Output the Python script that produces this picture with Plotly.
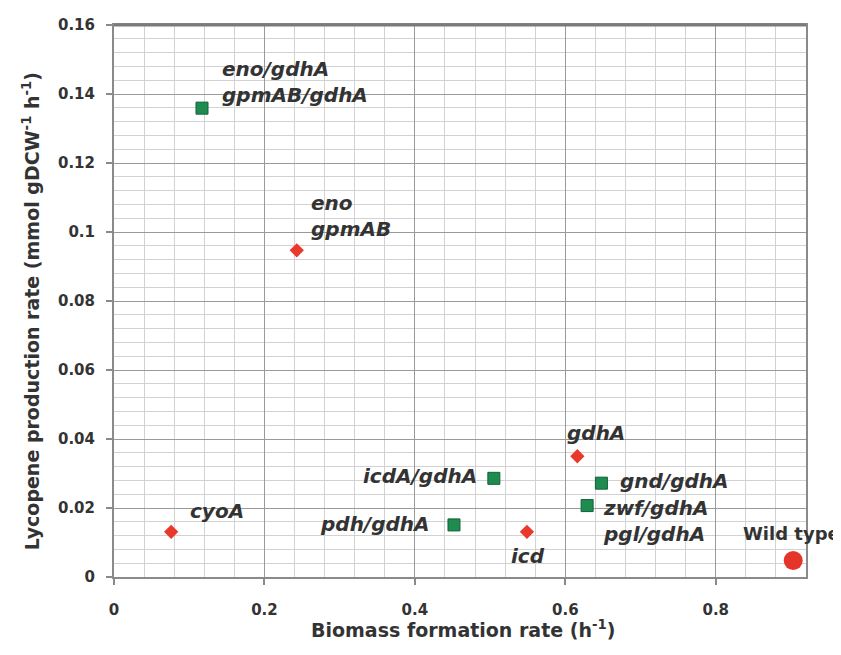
import plotly.graph_objects as go

# Single mutants (red diamonds)
single_names = ["eno<br>gpmAB", "cyoA", "gdhA", "icd"]
single_x = [0.243, 0.076, 0.616, 0.549]
single_y = [0.0947, 0.0131, 0.0350, 0.0131]

# Double mutants (green squares)
double_names = ["eno/gdhA<br>gpmAB/gdhA", "icdA/gdhA", "gnd/gdhA", "zwf/gdhA<br>pgl/gdhA", "pdh/gdhA"]
double_x = [0.117, 0.505, 0.648, 0.629, 0.452]
double_y = [0.1359, 0.0286, 0.0272, 0.0207, 0.0151]

# Wild type
wt_name = "Wild type"
wt_x = [0.903]
wt_y = [0.0048]

x_ticks = [0, 0.2, 0.4, 0.6, 0.8]
y_ticks = [0, 0.02, 0.04, 0.06, 0.08, 0.1, 0.12, 0.14, 0.16]

FONT = "DejaVu Sans"
TXT = "#333333"

fig = go.Figure()
fig.add_trace(go.Scatter(x=single_x, y=single_y, mode="markers",
                         marker=dict(symbol="diamond", size=11, color="#e8392c",
                                     line=dict(width=0)),
                         cliponaxis=False, showlegend=False))
fig.add_trace(go.Scatter(x=double_x, y=double_y, mode="markers",
                         marker=dict(symbol="square", size=12, color="#1e8c4e",
                                     line=dict(width=1, color="#11603a")),
                         cliponaxis=False, showlegend=False))
fig.add_trace(go.Scatter(x=wt_x, y=wt_y, mode="markers",
                         marker=dict(symbol="circle", size=19, color="#e5352a",
                                     line=dict(width=0)),
                         cliponaxis=False, showlegend=False))

label_font = dict(family=FONT, size=20, color=TXT, weight="bold", style="italic")

offsets_single = [("left", 12, 34), ("left", 17, 21), ("center", 19, 23), ("center", 1, -24)]
offsets_double = [("left", 18, 26), ("right", -15, 2), ("left", 17, 2), ("left", 14, -15), ("right", -22, 1)]

for name, x, y, (xa, dx, dy) in zip(single_names, single_x, single_y, offsets_single):
    fig.add_annotation(x=x, y=y, text=name, showarrow=False, xanchor=xa, yanchor="middle",
                       xshift=dx, yshift=dy, align="left", font=label_font)
for name, x, y, (xa, dx, dy) in zip(double_names, double_x, double_y, offsets_double):
    fig.add_annotation(x=x, y=y, text=name, showarrow=False, xanchor=xa, yanchor="middle",
                       xshift=dx, yshift=dy, align="left", font=label_font)
fig.add_annotation(x=wt_x[0], y=wt_y[0], text=wt_name, showarrow=False, xanchor="center",
                   yanchor="middle", xshift=-2, yshift=27,
                   font=dict(family=FONT, size=18, color=TXT, weight="bold"))

# Axis titles
fig.add_annotation(xref="paper", yref="paper", x=0.505, y=-0.094,
                   text="Biomass formation rate (h<sup>-1</sup>)", showarrow=False,
                   xanchor="center", yanchor="middle",
                   font=dict(family=FONT, size=19, color=TXT, weight="bold"))
fig.add_annotation(xref="paper", yref="paper", x=-0.119, y=0.481, textangle=-90,
                   text="Lycopene production rate (mmol gDCW<sup>-1</sup> h<sup>-1</sup>)",
                   showarrow=False, xanchor="center", yanchor="middle",
                   font=dict(family=FONT, size=19, color=TXT, weight="bold"))

axis_common = dict(showline=True, linecolor="#8a8a8a", linewidth=2, mirror=True,
                   ticks="outside", ticklen=6, tickcolor="#8a8a8a", tickwidth=1.5,
                   showgrid=True, gridcolor="#9a9a9a", gridwidth=1.3,
                   zeroline=False,
                   tickfont=dict(family=FONT, size=15, color=TXT, weight="bold"))

fig.update_xaxes(range=[0, 0.92], tickvals=x_ticks, ticktext=[str(v) for v in x_ticks],
                 ticklabelstandoff=12,
                 minor=dict(dtick=0.04, tick0=0, showgrid=True, gridcolor="#d2d2d2", gridwidth=1),
                 **axis_common)
fig.update_yaxes(range=[0, 0.16], tickvals=y_ticks, ticktext=[str(v) for v in y_ticks],
                 ticklabelstandoff=8,
                 minor=dict(dtick=0.004, tick0=0, showgrid=True, gridcolor="#d2d2d2", gridwidth=1),
                 **axis_common)

# Thicker top border as in the reference
fig.add_shape(type="line", xref="paper", yref="paper", x0=0, x1=1, y0=1, y1=1,
              line=dict(color="#7a7a7a", width=3))

fig.update_layout(width=833, height=647,
                  margin=dict(l=106, r=35, t=8, b=78),
                  paper_bgcolor="white", plot_bgcolor="white",
                  showlegend=False)

fig.write_html("out.html")
